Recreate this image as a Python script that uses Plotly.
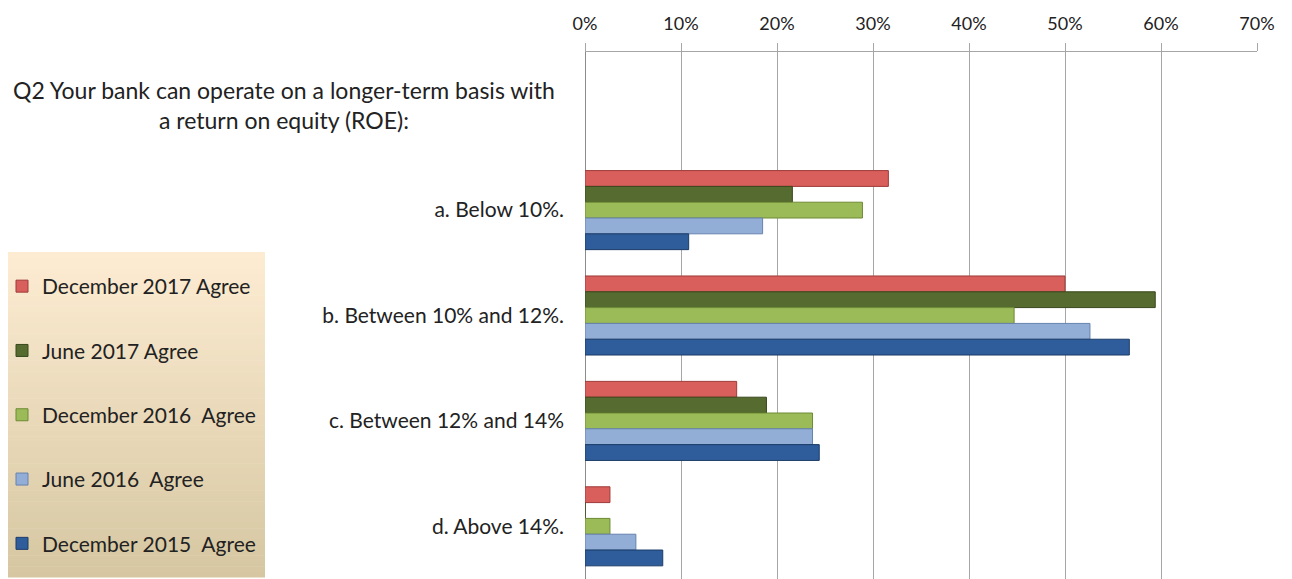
import plotly.graph_objects as go

categories = [
    'Q2 Your bank can operate on a longer-term basis with<br>a return on equity (ROE):',
    'a. Below 10%.',
    'b. Between 10% and 12%.',
    'c. Between 12% and 14%',
    'd. Above 14%.',
]
series_names = [
    'December 2017 Agree',
    'June 2017 Agree',
    'December 2016  Agree',
    'June 2016  Agree',
    'December 2015  Agree',
]
dec_2017 = [None, 0.316, 0.500, 0.158, 0.026]
jun_2017 = [None, 0.216, 0.594, 0.189, 0.0]
dec_2016 = [None, 0.289, 0.447, 0.237, 0.026]
jun_2016 = [None, 0.185, 0.526, 0.237, 0.053]
dec_2015 = [None, 0.108, 0.567, 0.244, 0.081]
x_ticks = [0, 0.1, 0.2, 0.3, 0.4, 0.5, 0.6, 0.7]

series_values = [dec_2017, jun_2017, dec_2016, jun_2016, dec_2015]
fills = ['#D95F5C', '#566B30', '#9BBB59', '#92AED6', '#2F5C9A']
edges = ['#9E3B39', '#39481C', '#6E8A35', '#6682AE', '#1C3C69']

W, H = 1292, 579
L, R, T, B = 585, 35, 52, 0
pw, ph = W - L - R, H - T - B


def px(x):
    # screen x -> paper x
    return (x - L) / pw


def py(y):
    # screen y -> paper y
    return (H - B - y) / ph


fig = go.Figure()

for name, vals, fc, ec in zip(series_names, series_values, fills, edges):
    fig.add_trace(go.Bar(
        y=categories,
        x=vals,
        name=name,
        orientation='h',
        marker=dict(color=fc, line=dict(color=ec, width=1)),
        legendgroup=name,
        hovertemplate='%{y}: %{x:.0%}<extra>' + name + '</extra>',
    ))

# legend box with vertical gradient
shapes = []
top_c, bot_c = (253, 236, 210), (214, 199, 162)
n = 60
y0, y1 = 252, 577
for i in range(n):
    t = i / (n - 1)
    c = tuple(int(round(a + (b - a) * t)) for a, b in zip(top_c, bot_c))
    ya = y0 + (y1 - y0) * i / n
    yb = y0 + (y1 - y0) * (i + 1) / n
    shapes.append(dict(
        type='rect', xref='paper', yref='paper', layer='below',
        x0=px(8), x1=px(265), y0=py(yb + 0.5), y1=py(ya),
        fillcolor='rgb(%d,%d,%d)' % c, line=dict(width=0),
    ))

fig.add_annotation(
    x=px(284), xref='paper', y=categories[0], yref='y',
    text=categories[0], showarrow=False, align='center',
    xanchor='center', yanchor='middle',
    font=dict(size=23, color='#222222'),
)

fig.update_layout(
    width=W, height=H,
    margin=dict(l=L, r=R, t=T, b=B),
    plot_bgcolor='white', paper_bgcolor='white',
    font=dict(family='Lato, Open Sans, sans-serif', size=21, color='#222222'),
    barmode='group', bargap=0.25, bargroupgap=0,
    shapes=shapes,
    xaxis=dict(
        side='top', range=[0, 0.7], tickvals=x_ticks, tickformat='.0%',
        showgrid=True, gridcolor='#A6A6A6', gridwidth=1,
        zeroline=True, zerolinecolor='#8C8C8C', zerolinewidth=1,
        showline=True, linecolor='#A6A6A6', linewidth=1,
        ticks='outside', ticklen=8, tickcolor='#A6A6A6',
        tickfont=dict(size=18, color='#222222'),
        ticklabelstandoff=6, fixedrange=True,
    ),
    yaxis=dict(
        autorange='reversed', type='category',
        tickvals=categories, ticktext=[''] + categories[1:],
        ticks='', ticklabelstandoff=20, showgrid=False,
        tickfont=dict(size=21, color='#222222'),
    ),
    legend=dict(
        x=px(2), y=py(266), xanchor='left', yanchor='top',
        bgcolor='rgba(0,0,0,0)', traceorder='grouped', tracegroupgap=34,
        font=dict(size=21, color='#222222'), itemwidth=30,
    ),
)

# drop the default 8px body margin so the figure fills the window exactly
fig.write_html('out.html', config={'displayModeBar': False},
               post_script="document.body.style.margin='0';")
